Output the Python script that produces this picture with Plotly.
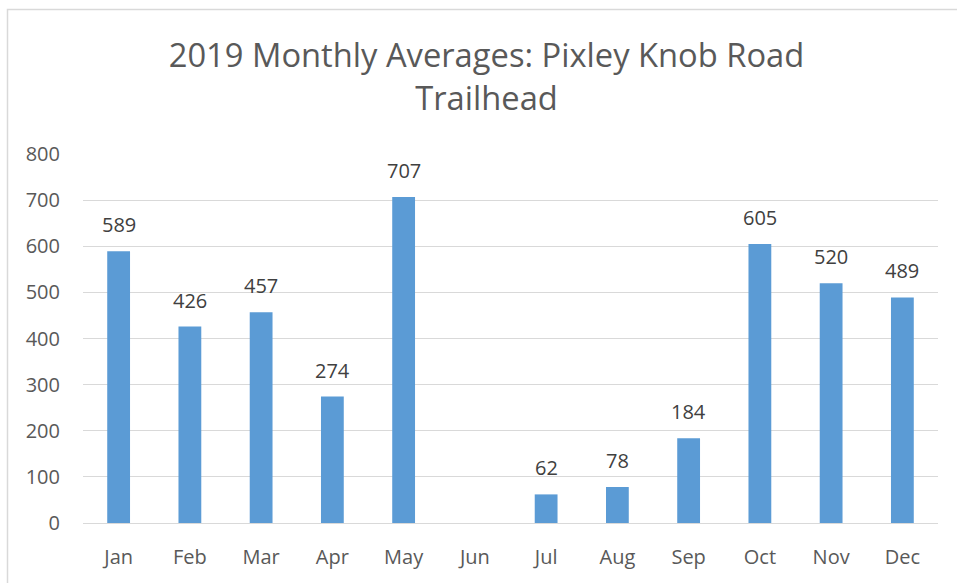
import plotly.graph_objects as go

months = ["Jan", "Feb", "Mar", "Apr", "May", "Jun", "Jul", "Aug", "Sep", "Oct", "Nov", "Dec"]
averages = [589, 426, 457, 274, 707, None, 62, 78, 184, 605, 520, 489]
y_ticks = [0, 100, 200, 300, 400, 500, 600, 700, 800]

W, H = 957, 583
L, R, T, B = 83, 19, 154, 60
pw, ph = W - L - R, H - T - B

def px_x(p):
    return (p - L) / pw

def px_y(p):
    return (H - B - p) / ph

text_color = "#595959"
font_family = "Open Sans, Liberation Sans, sans-serif"

fig = go.Figure()
fig.add_trace(go.Bar(
    x=months,
    y=averages,
    marker=dict(color="#5B9BD5", line=dict(width=0)),
    hoverinfo="x+y",
))

annotations = [
    dict(x=m, y=v, xref="x", yref="y", text=str(v), showarrow=False,
         yanchor="bottom", yshift=11,
         font=dict(size=20, color="#404040", family=font_family))
    for m, v in zip(months, averages) if v is not None
]

fig.update_layout(
    width=W, height=H,
    margin=dict(l=L, r=R, t=T, b=B),
    paper_bgcolor="white",
    plot_bgcolor="white",
    bargap=0.68,
    showlegend=False,
    annotations=annotations,
    title=dict(
        text="2019 Monthly Averages: Pixley Knob Road<br>Trailhead",
        x=486.5 / W, xref="container", xanchor="center",
        y=1 - 67 / H, yref="container", yanchor="top",
        font=dict(size=32.7, color=text_color, family=font_family),
    ),
    xaxis=dict(
        showgrid=False,
        showline=True, linecolor="#D9D9D9", linewidth=1,
        ticks="", ticklabelstandoff=16,
        tickfont=dict(size=20, color=text_color, family=font_family),
        fixedrange=True,
    ),
    yaxis=dict(
        range=[0, 800],
        tickvals=y_ticks,
        showgrid=True, gridcolor="#D9D9D9", gridwidth=1,
        zeroline=False, showline=False,
        ticks="", ticklabelstandoff=22,
        tickfont=dict(size=20, color=text_color, family=font_family),
        fixedrange=True,
    ),
    shapes=[dict(
        type="rect", xref="paper", yref="paper",
        x0=px_x(7.5), x1=px_x(970), y0=px_y(600), y1=px_y(9.5),
        line=dict(color="#D9D9D9", width=1.5), fillcolor="rgba(0,0,0,0)", layer="below",
    )],
)

fig.write_html("out.html", config={"displayModeBar": False},
               post_script="document.body.style.margin='0';")
